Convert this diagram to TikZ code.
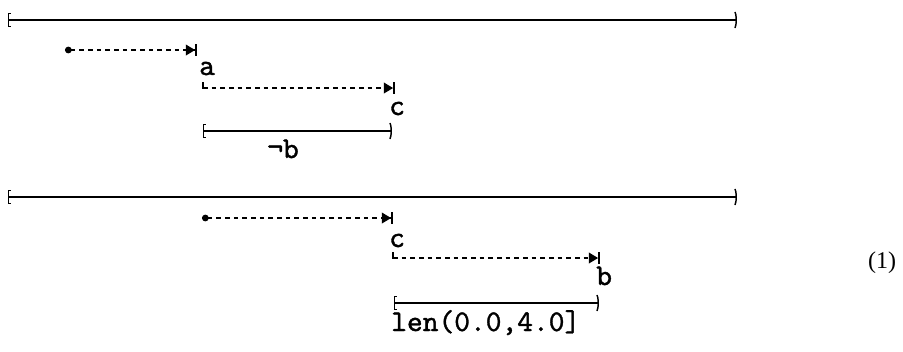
\documentclass[tikz,border=0pt]{standalone}
\usepackage{fontspec}
\newfontfamily\eqfont{Liberation Serif}
\newfontfamily\lblfont{lmmono10-regular.otf}[FakeBold=1.2]
\usetikzlibrary{arrows.meta}

\begin{document}
\begin{tikzpicture}[x=0.75pt,y=-0.75pt,
    span/.style={line width=1.4pt,{Bracket[width=11pt,length=1.5pt,line width=1.1pt]}-{Parenthesis[width=15pt,length=2.5pt,line width=1.1pt]}},
    link/.style={line width=1.3pt,dash pattern=on 3.5pt off 3pt,-{Triangle[length=7pt,width=8pt]Bar[width=9pt,line width=1.4pt]}},
    dotlink/.style={link,{Circle[length=5pt]}-{Triangle[length=7pt,width=8pt]Bar[width=9pt,line width=1.4pt]}},
    hook/.style={line width=1.3pt},
    lbl/.style={font=\lblfont\fontsize{22.5}{26}\selectfont,inner sep=0pt,anchor=base west}]

    \useasboundingbox (0,0) rectangle (903,351);

    % first line
    \coordinate (t1) at (8,20);
    \coordinate (t2) at (737,20);
    \draw[span] (t1) -- (t2);

    \coordinate (p1) at (65,50);
    \coordinate (p2) at (197,50);
    \draw[dotlink] (p1) -- (p2);

    \node[lbl] (a) at (199,75) {a};
    \coordinate (q1) at (203,88);
    \coordinate (q2) at (395,88);
    \draw[hook] (q1) ++(0,-6) -- (q1) -- ++(3,0);
    \draw[link] (q1) -- (q2);
    \node[lbl] (c) at (389,115) {c};

    \coordinate (r1) at (203,131);
    \coordinate (r2) at (392,131);
    \draw[span] (r1) -- (r2);
    \node[lbl,anchor=base] (nb) at (283,158) {¬b};

    % second line
    \coordinate (t3) at (8,197);
    \coordinate (t4) at (737,197);
    \draw[span] (t3) -- (t4);

    \coordinate (p3) at (202,218);
    \coordinate (p4) at (393,218);
    \draw[dotlink] (p3) -- (p4);

    \node[lbl] (c2) at (389,247) {c};
    \coordinate (q3) at (393,258);
    \coordinate (q4) at (600,258);
    \draw[hook] (q3) ++(0,-6) -- (q3) -- ++(3,0);
    \draw[link] (q3) -- (q4);
    \node[lbl] (b) at (596,285) {b};

    \coordinate (r3) at (394,303);
    \coordinate (r4) at (599,303);
    \draw[span] (r3) -- (r4);
    \node[lbl] (len) at (391,331) {len(0.0,4.0]};

    \node[font=\eqfont\fontsize{18}{21}\selectfont,inner sep=0pt,anchor=base] (eq) at (882,268) {(1)};
\end{tikzpicture}
\end{document}
